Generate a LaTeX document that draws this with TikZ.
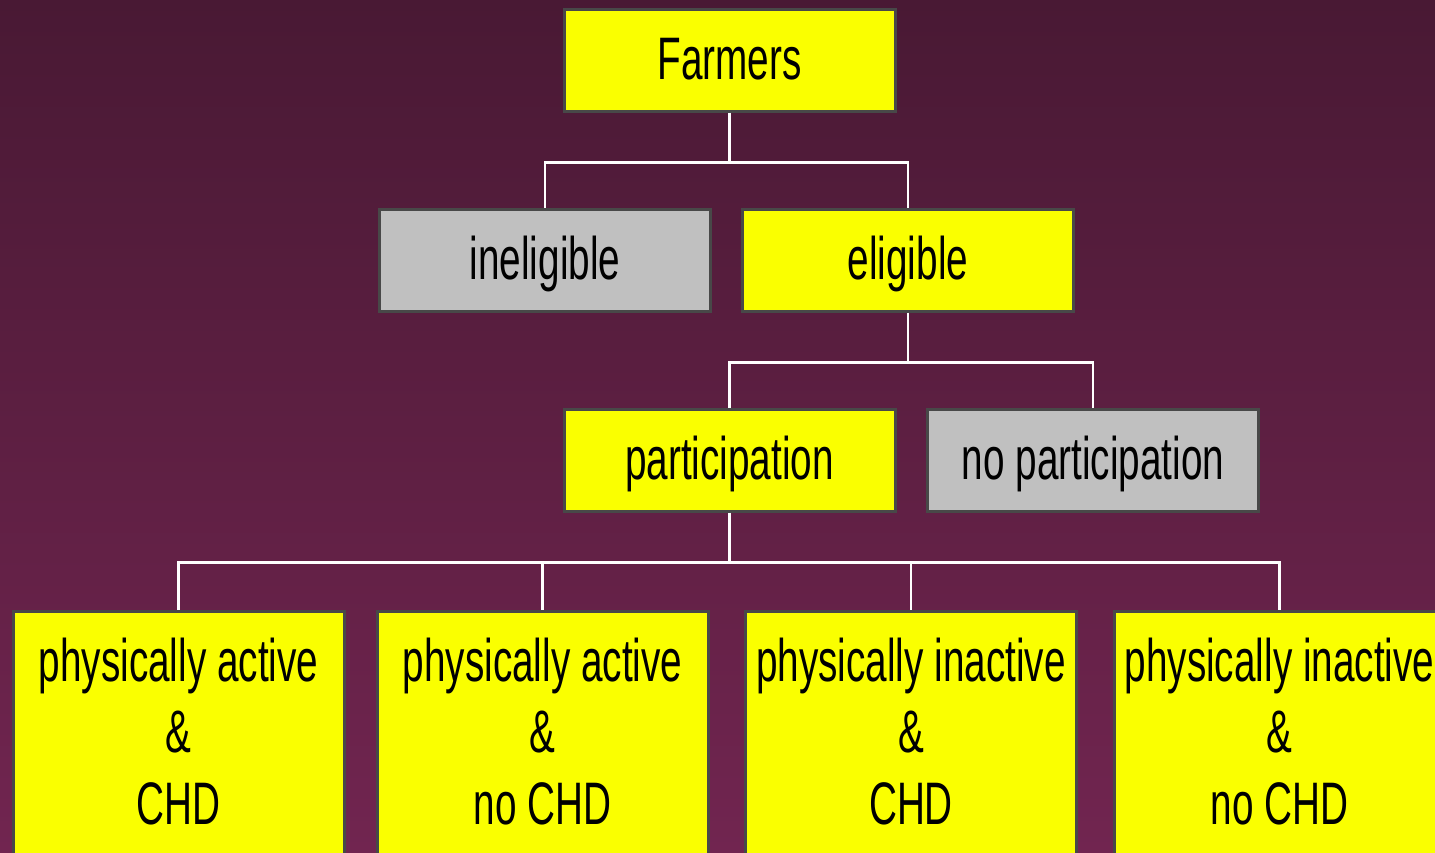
\documentclass[tikz,border=0pt]{standalone}
\usepackage{fontspec}
\setmainfont{Liberation Sans}[FakeStretch=0.645]
\definecolor{bgtop}{RGB}{73,25,52}
\definecolor{bgbot}{RGB}{113,37,80}
\definecolor{boxyellow}{RGB}{250,255,0}
\definecolor{boxgray}{RGB}{192,192,192}
\definecolor{boxedge}{RGB}{72,72,72}
\tikzset{
  box/.style={draw=boxedge, line width=3pt, rectangle, inner sep=0pt,
    minimum width=331pt, minimum height=102pt,
    font=\fontsize{60}{71.5}\selectfont, text height=43pt, text depth=5pt},
  yes/.style={box, fill=boxyellow},
  no/.style={box, fill=boxgray},
  leafbox/.style={draw=boxedge, line width=3pt, fill=boxyellow, rectangle,
    inner sep=0pt, minimum width=331pt, minimum height=300pt, anchor=north},
  leaftext/.style={inner sep=0pt, anchor=north, align=center,
    font=\fontsize{60}{71.5}\selectfont},
  conn/.style={draw=white, line width=2.5pt}
}
\begin{document}
\begin{tikzpicture}[x=1pt,y=1pt]
  \useasboundingbox (0,0) rectangle (1435,-852);
  \clip (0,0) rectangle (1435,-852);
  \shade[top color=bgtop, bottom color=bgbot] (0,0) rectangle (1435,-852);

  % decision tree
  \node[yes] (farmers) at (729.5,-60) {Farmers};
  \node[no]  (inelig)  at (545,-260)  {ineligible};
  \node[yes] (elig)    at (908,-260)  {eligible};
  \node[yes] (part)    at (729.5,-460) {participation};
  \node[no]  (nopart)  at (1093,-460) {no participation};

  \node[leafbox] (l1) at (178.5,-609.5) {};
  \node[leafbox] (l2) at (542.5,-609.5) {};
  \node[leafbox] (l3) at (911,-609.5) {};
  \node[leafbox] (l4) at (1279.5,-609.5) {};

  \node[leaftext] (t1) at (178.5,-631) {\rule{0pt}{50pt}physically active\\\&\\CHD};
  \node[leaftext] (t2) at (542.5,-631) {\rule{0pt}{50pt}physically active\\\&\\no CHD};
  \node[leaftext] (t3) at (911,-631) {\rule{0pt}{50pt}physically inactive\\\&\\CHD};
  \node[leaftext] (t4) at (1279.5,-631) {\rule{0pt}{50pt}physically inactive\\\&\\no CHD};

  % connectors
  \draw[conn] (farmers.south) -- ++(0,-50) coordinate (j1);
  \draw[conn] (inelig.north) |- (j1) -| (elig.north);

  \draw[conn] (elig.south) -- ++(0,-50) coordinate (j2);
  \draw[conn] (part.north) |- (j2) -| (nopart.north);

  \draw[conn] (part.south) -- ++(0,-50) coordinate (j3);
  \draw[conn] (l1.north) |- (j3) -| (l4.north);
  \draw[conn] (l2.north) -- (l2.north |- j3);
  \draw[conn] (l3.north) -- (l3.north |- j3);
\end{tikzpicture}
\end{document}
